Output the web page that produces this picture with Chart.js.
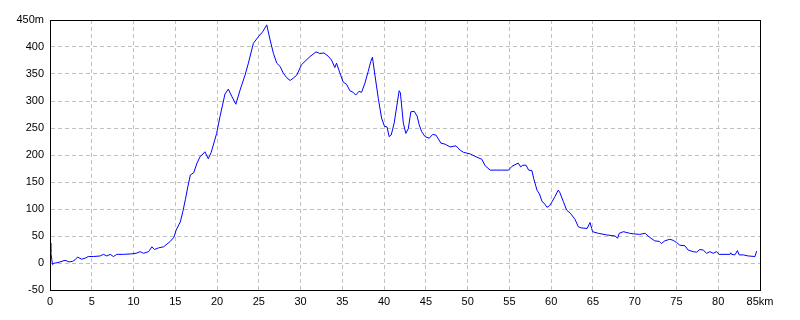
<!DOCTYPE html>
<html>
<head>
<meta charset="utf-8">
<script src="https://cdn.jsdelivr.net/npm/chart.js@4"></script>
<style>
html,body{margin:0;padding:0;background:#fff;}
#wrap{width:800px;height:320px;position:relative;}
</style>
</head>
<body>
<div id="wrap"><canvas id="c"></canvas></div>
<script>
const distanceKm = [0,0.1,0.3,0.5,0.7,1.2,1.8,2.3,2.7,3.0,3.3,3.8,4.2,4.6,5.2,6.0,6.4,6.8,7.2,7.6,8.0,8.8,9.8,10.3,10.8,11.2,11.8,12.2,12.5,13.0,13.6,14.0,14.4,14.85,15.1,15.6,15.9,16.2,16.5,16.8,17.2,17.6,18.0,18.2,18.55,18.95,19.3,19.95,20.35,20.95,21.35,21.75,22.25,22.75,23.35,23.75,24.35,24.95,25.45,25.95,26.35,26.75,27.15,27.55,27.95,28.35,28.75,29.1,29.55,30.1,31.1,31.85,32.3,32.8,33.3,33.7,34.1,34.3,34.7,35.1,35.5,35.9,36.3,36.6,37.0,37.3,37.7,38.1,38.4,38.6,38.9,39.3,39.7,40.05,40.35,40.6,40.85,41.2,41.5,41.8,41.95,42.3,42.6,42.9,43.2,43.6,43.95,44.2,44.5,44.9,45.4,45.8,46.2,46.8,47.3,47.9,48.6,49.1,49.5,50.3,51.1,51.7,52.1,52.7,53.5,54.1,54.9,55.3,56.05,56.35,56.6,57.0,57.3,57.7,57.9,58.3,58.6,58.9,59.2,59.5,59.8,60.05,60.45,60.85,61.05,61.45,61.85,62.3,62.85,63.25,63.6,64.3,64.65,64.85,64.95,65.65,66.65,67.65,67.95,68.15,68.65,69.4,69.85,70.6,71.25,71.75,72.4,72.95,73.2,73.6,74.2,74.6,75.0,75.4,76.0,76.4,77.0,77.4,77.8,78.2,78.6,79.0,79.4,79.8,80.1,81.4,81.5,81.6,82.0,82.3,82.5,83.0,83.6,84.4,84.6];
const elevationM = [37,20,-3,0,0,2,5,2,3,6,11,7,9,12,12,13,16,13,16,12,16,16,17,18,21,18,21,30,25,28,30,35,40,48,61,76,95,117,141,163,167,185,198,200,206,193,205,240,271,313,322,309,294,320,348,370,407,419,428,441,413,388,370,364,351,343,338,342,348,367,382,391,388,389,383,376,362,370,352,335,331,319,316,311,318,316,333,355,373,381,348,305,268,253,252,234,237,259,289,319,315,259,240,249,280,281,272,256,243,234,231,238,237,222,220,215,217,209,205,202,196,192,180,172,172,172,172,179,185,178,181,181,172,171,157,135,128,114,110,103,106,112,123,135,130,114,98,92,81,67,65,64,75,64,58,55,52,50,46,55,58,55,54,53,55,48,41,40,36,41,44,42,38,33,32,24,21,20,25,24,18,21,18,21,16,16,19,16,15,23,15,15,13,12,22];
const xMin = 0, xMax = 85, xStep = 5;
const yMin = -50, yMax = 450, yStep = 50;
const xUnit = 'km', yUnit = 'm';

const points = distanceKm.map((d,i)=>({x:d,y:elevationM[i]}));

const framePlugin = {
  id:'frame',
  afterDraw(chart){
    const a = chart.chartArea, ctx = chart.ctx;
    ctx.save();
    ctx.strokeStyle = '#000';
    ctx.lineWidth = 1;
    ctx.strokeRect(Math.round(a.left)+0.5, Math.round(a.top)+0.5, Math.round(a.right-a.left), Math.round(a.bottom-a.top));
    ctx.restore();
  }
};

const font = {family:'"Liberation Sans", Arial, sans-serif', size:11};

new Chart(document.getElementById('c'), {
  type:'line',
  data:{datasets:[{
    data:points,
    borderColor:'#0000ff',
    borderWidth:1,
    pointRadius:0,
    tension:0,
    fill:false
  }]},
  options:{
    responsive:true,
    maintainAspectRatio:false,
    animation:false,
    devicePixelRatio:1,
    layout:{padding:{left:0,top:20,right:40,bottom:0}},
    plugins:{legend:{display:false},tooltip:{enabled:false}},
    scales:{
      x:{
        type:'linear', min:xMin, max:xMax,
        afterFit(s){ s.height = 30; },
        ticks:{stepSize:xStep, color:'#000', font, padding:5, maxRotation:0, autoSkip:false,
          callback:(v)=> v===xMax ? v+xUnit : String(v)},
        grid:{color:'#c0c0c0', drawTicks:false, lineWidth:1},
        border:{display:true, color:'#000', dash:[4,3]}
      },
      y:{
        type:'linear', min:yMin, max:yMax,
        afterFit(s){ s.width = 50; },
        ticks:{stepSize:yStep, color:'#000', font, padding:6,
          callback:(v)=> v===yMax ? v+yUnit : String(v)},
        grid:{color:'#c0c0c0', drawTicks:false, lineWidth:1},
        border:{display:true, color:'#000', dash:[4,3]}
      }
    }
  },
  plugins:[framePlugin]
});
</script>
</body>
</html>
